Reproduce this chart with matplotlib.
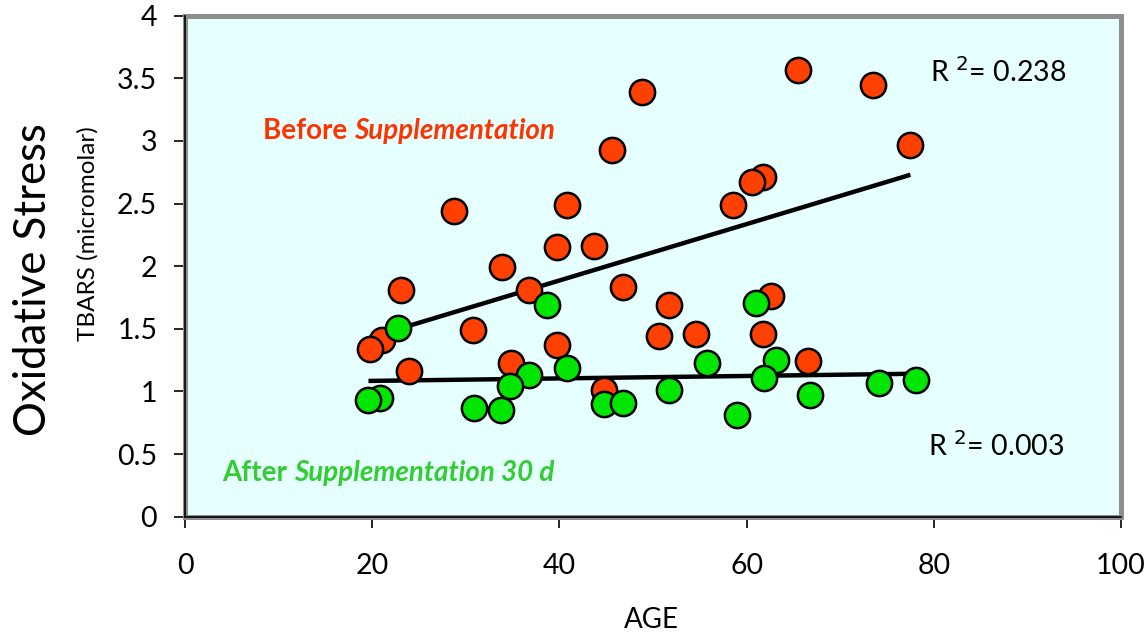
import numpy as np
import matplotlib
matplotlib.use("Agg")
import matplotlib.pyplot as plt

plt.rcParams['font.family'] = ['Lato', 'DejaVu Sans']

# Before supplementation (age, TBARS)
before_age = [28.7, 40.8, 39.7, 43.7, 33.9, 23.1, 36.8, 46.8, 21.0, 19.8,
              30.8, 39.7, 23.9, 34.8, 44.8, 48.8, 65.5, 73.5, 45.6, 77.5,
              61.7, 60.6, 58.6, 51.7, 62.6, 50.6, 54.6, 61.7, 66.6]
before_tbars = [2.44, 2.49, 2.15, 2.16, 1.99, 1.81, 1.81, 1.83, 1.41, 1.34,
                1.49, 1.37, 1.16, 1.23, 1.01, 3.39, 3.57, 3.45, 2.93, 2.97,
                2.71, 2.67, 2.49, 1.69, 1.76, 1.44, 1.46, 1.46, 1.24]

# After 30 days of supplementation
after_age = [38.7, 22.8, 36.7, 34.7, 40.8, 44.8, 46.8, 20.8, 19.6, 30.9,
             33.8, 61.0, 55.8, 63.1, 61.9, 51.7, 66.8, 74.1, 78.1, 59.0]
after_tbars = [1.69, 1.51, 1.13, 1.04, 1.19, 0.90, 0.91, 0.95, 0.93, 0.87,
               0.85, 1.71, 1.23, 1.25, 1.11, 1.01, 0.97, 1.07, 1.09, 0.81]

r2_labels = ["R $^{2}$= 0.238", "R $^{2}$= 0.003"]
x_ticks = [0, 20, 40, 60, 80, 100]
y_ticks = [0, 0.5, 1, 1.5, 2, 2.5, 3, 3.5, 4]
y_ticklabels = ["0", "0.5", "1", "1.5", "2", "2.5", "3", "3.5", "4"]

ORANGE = "#FF4000"
GREEN = "#00E600"

fig = plt.figure(figsize=(11.45, 6.34), dpi=100)
ax = fig.add_axes([185/1145, 1-516.7/634, (1121-185)/1145, (516.7-15.7)/634])
ax.set_facecolor("#E6FFFF")
ax.set_xlim(0, 100)
ax.set_ylim(0, 4)

# trend lines
for xs, ys in [(before_age, before_tbars), (after_age, after_tbars)]:
    xs = np.array(xs); ys = np.array(ys)
    k, b = np.polyfit(xs, ys, 1)
    xx = np.array([xs.min(), xs.max()])
    ax.plot(xx, k*xx + b, color="black", lw=3.2, zorder=2, solid_capstyle="butt")

ax.scatter(before_age, before_tbars, s=330, c=ORANGE, edgecolors="black",
           linewidths=1.8, zorder=3)
ax.scatter(after_age, after_tbars, s=330, c=GREEN, edgecolors="black",
           linewidths=1.8, zorder=4)

for sp in ax.spines.values():
    sp.set_color("#8E8E8E")
    sp.set_linewidth(3.6)
ax.axvline(0, color="black", lw=1.2, zorder=6, clip_on=False)
ax.axhline(0, color="black", lw=1.2, zorder=6, clip_on=False)

ax.set_xticks(x_ticks)
ax.set_xticklabels([str(v) for v in x_ticks])
ax.set_yticks(y_ticks)
ax.set_yticklabels(y_ticklabels)
ax.tick_params(axis="both", direction="out", length=8, width=1.2, color="black",
               labelsize=20.5, labelcolor="black")
ax.tick_params(axis="x", pad=18)
ax.tick_params(axis="y", pad=12)

fig.text(651/1145, 1-620/634, "AGE", fontsize=20, ha="center", va="center")

fig.text(34/1145, 1-280/634, "Oxidative Stress", rotation=90, fontsize=31.5,
         ha="center", va="center")
fig.text(88/1145, 1-234/634, "TBARS (micromolar)", rotation=90, fontsize=17.5,
         ha="center", va="center")

# annotations
t1 = fig.text(263/1145, 1-131/634, "Before ", color="#FF3300", fontsize=20,
              fontweight="bold", va="center", ha="left")
fig.canvas.draw()
bb = t1.get_window_extent()
fig.text(bb.x1/1145, 1-131/634, "Supplementation", color="#FF3300", fontsize=20,
         fontweight="bold", style="italic", va="center", ha="left")

t2 = fig.text(222/1145, 1-473/634, "After ", color="#33CC33", fontsize=20,
              fontweight="bold", va="center", ha="left")
fig.canvas.draw()
bb2 = t2.get_window_extent()
fig.text(bb2.x1/1145, 1-473/634, "Supplementation 30 d", color="#33CC33",
         fontsize=20, fontweight="bold", style="italic", va="center", ha="left")

fig.text(930/1145, 1-72/634, r2_labels[0], fontsize=20.5, va="center", ha="left")
fig.text(928/1145, 1-446/634, r2_labels[1], fontsize=20.5, va="center", ha="left")

fig.savefig("out.png", dpi=100)
